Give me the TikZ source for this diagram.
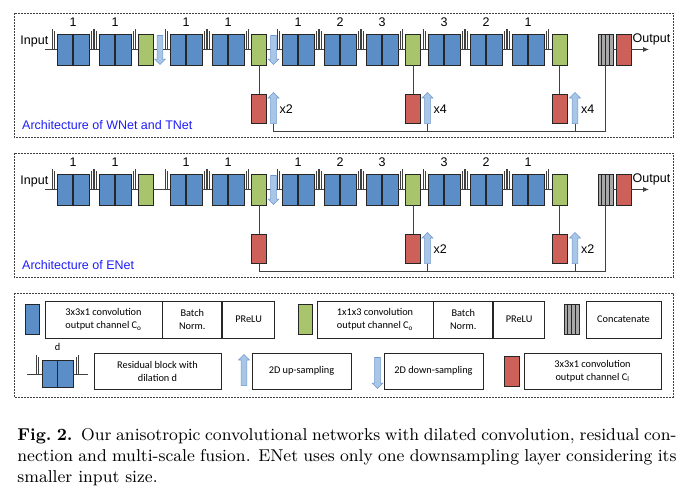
\documentclass[tikz,border=0pt]{standalone}
\usepackage{fontspec}
\usetikzlibrary{positioning, shapes.arrows, arrows.meta}
\newfontfamily\archfont{Liberation Sans}
\newfontfamily\keyfont{Carlito}

\definecolor{convblue}{RGB}{91,142,199}
\definecolor{convgreen}{RGB}{168,196,108}
\definecolor{convred}{RGB}{205,97,89}
\definecolor{catgray}{RGB}{168,168,168}
\definecolor{sampfill}{RGB}{168,198,232}
\definecolor{sampdraw}{RGB}{112,152,204}
\definecolor{titleblue}{RGB}{30,30,250}

\tikzset{
  blk/.style={draw=black!85, line width=0.8pt, inner sep=0pt, outer sep=0pt},
  resblk/.style={blk, fill=convblue, minimum width=32pt, minimum height=31pt,
    path picture={\draw[line width=1.3pt] (path picture bounding box.north) -- (path picture bounding box.south);}},
  greenblk/.style={blk, fill=convgreen, minimum width=15pt, minimum height=31pt},
  redblk/.style={blk, fill=convred, minimum width=15pt, minimum height=29pt},
  catblk/.style={blk, fill=catgray, minimum width=15pt, minimum height=31pt,
    path picture={\foreach \k in {1,2,3}
      \draw[line width=0.8pt] ([xshift=\k*3.75pt]path picture bounding box.south west) -- ([xshift=\k*3.75pt]path picture bounding box.north west);}},
  skipline/.style={draw=black!75, line width=0.7pt, double=white, double distance=1.4pt},
  wire/.style={draw=black!75, line width=0.8pt},
  samparrow/.style={single arrow, draw=sampdraw, fill=sampfill, line width=0.6pt,
    minimum height=31pt, minimum width=10.5pt, inner sep=2.6pt, single arrow head extend=2.5pt},
  uparrow/.style={samparrow, rotate=90},
  downarrow/.style={samparrow, rotate=-90, minimum height=29pt},
  lbl/.style={inner sep=0pt, font=\archfont\fontsize{12.5}{14}\selectfont},
  archtitle/.style={lbl, anchor=base west, text=titleblue},
  panelframe/.style={draw=black!75, line width=0.7pt, dash pattern=on 2pt off 1pt},
  keybox/.style={draw=black!85, line width=0.8pt, align=center, inner sep=1pt,
    font=\keyfont\fontsize{10.3}{13}\selectfont},
  keylbl/.style={inner sep=0pt, font=\keyfont\fontsize{10.3}{13}\selectfont}
}

\begin{document}
\begin{tikzpicture}[x=1pt, y=-1pt]
\useasboundingbox (0,0) rectangle (684,498);

% both networks share the same backbone
\foreach \p/\yo/\ttl in {w/0/WNet and TNet, e/140/ENet}{
\begin{scope}[shift={(0,\yo)}]
  \draw[panelframe] (14,13) rectangle (673,137);
  \node[archtitle] (\p-title) at (22,129.5) {Architecture of \ttl};
  \coordinate (\p-in) at (45,49.5);
  \node[lbl, anchor=base east] (\p-input) at (48.5,44.3) {Input};
  \foreach \b/\xc/\dd in {1/73/1, 2/115/1, 3/186/1, 4/228/1, 5/298/1, 6/340/2, 7/382/3, 8/444/3, 9/486/2, 10/528/1}{
    \node[resblk] (\p-b\b) at (\xc,49.5) {};
    \draw[skipline] ([shift={(-3.5,0)}]\p-b\b.west) |- ([shift={(0,-4)}]\p-b\b.north) -| ([shift={(3.5,0)}]\p-b\b.east);
    \node[lbl, anchor=base] (\p-d\b) at (\xc,26.5) {\dd};
  }
  \foreach \g/\xc in {1/145.5, 2/259, 3/413, 4/559.5}
    \node[greenblk] (\p-g\g) at (\xc,49.5) {};
  \foreach \r/\xc in {1/259, 2/413, 3/559.5}
    \node[redblk] (\p-r\r) at (\xc,108.5) {};
  \node[catblk] (\p-cat) at (605.5,49.5) {};
  \node[redblk, minimum height=31pt] (\p-out) at (623.5,49.5) {};
  \coordinate (\p-end) at (649,49.5);
  \coordinate (\p-bus) at (605.5,131);
  \node[lbl, anchor=base west] (\p-output) at (632.5,42) {Output};

  \draw[wire] (\p-in) -- (\p-b1) -- (\p-b2) -- (\p-g1) -- (\p-b3) -- (\p-b4) -- (\p-g2) -- (\p-b5) -- (\p-b6)
    -- (\p-b7) -- (\p-g3) -- (\p-b8) -- (\p-b9) -- (\p-b10) -- (\p-g4);
  \draw[wire] (\p-g2) -- (\p-r1);
  \draw[wire] (\p-g3) -- (\p-r2);
  \draw[wire] (\p-g4) -- (\p-r3);
  \draw[wire] (\p-bus) -- (\p-cat);
  \draw[wire] (\p-cat) -- (\p-out);
  \draw[wire, -{Latex[length=6pt, width=5pt]}] (\p-out) -- (\p-end);
  \node[downarrow] (\p-dn2) at (273.5,48.5) {};
  \node[uparrow] (\p-up2) at (427.5,109.5) {};
  \node[uparrow] (\p-up3) at (575,109.5) {};
  \draw[wire] (\p-up2.tail) -- (\p-up2.tail |- \p-bus);
  \draw[wire] (\p-up3.tail) -- (\p-up3.tail |- \p-bus);
\end{scope}
}

% WNet and TNet
\node[downarrow] (w-dn1) at (160,48.5) {};
\node[uparrow] (w-up1) at (273.5,109.5) {};
\draw[wire] (w-up1.tail) |- (w-bus);
\node[lbl, anchor=base west] (w-x1) at (279.5,113.5) {x2};
\node[lbl, anchor=base west] (w-x2) at (433.5,113.5) {x4};
\node[lbl, anchor=base west] (w-x3) at (581,113.5) {x4};

% ENet
\draw[wire] (e-r1) |- (e-bus);
\node[lbl, anchor=base west] (e-x2) at (433.5,253.5) {x2};
\node[lbl, anchor=base west] (e-x3) at (581,253.5) {x2};

% legend
\draw[panelframe] (14,293) rectangle (673,397);
\node[blk, fill=convblue, minimum width=14pt, minimum height=30pt] (k-blue) at (32,319) {};
\node[keybox, minimum width=117pt, minimum height=37pt] (k-conv) at (103.5,319.5) {3x3x1 convolution\\output channel C\textsubscript{o}};
\node[keybox, minimum width=59pt, minimum height=37pt, right=0pt of k-conv] (k-bn) {Batch\\Norm.};
\node[keybox, minimum width=52pt, minimum height=37pt, right=0pt of k-bn] (k-act) {PReLU};
\node[blk, fill=convgreen, minimum width=14pt, minimum height=30pt] (k-green) at (305,319) {};
\node[keybox, minimum width=116pt, minimum height=37pt] (k-conv2) at (375,319.5) {1x1x3 convolution\\output channel C\textsubscript{o}};
\node[keybox, minimum width=59pt, minimum height=37pt, right=0pt of k-conv2] (k-bn2) {Batch\\Norm.};
\node[keybox, minimum width=51pt, minimum height=37pt, right=0pt of k-bn2] (k-act2) {PReLU};
\node[catblk, minimum height=30pt] (k-cat) at (571.5,319) {};
\node[keybox, minimum width=75pt, minimum height=37pt] (k-cattxt) at (623.5,319.5) {Concatenate};

\coordinate (k-rl) at (27,374);
\coordinate (k-rr) at (88,374);
\node[resblk, minimum width=31pt, minimum height=27pt] (k-res) at (57.5,374) {};
\draw[skipline] ([shift={(-4.5,0)}]k-res.west) |- ([shift={(0,-4.5)}]k-res.north) -| ([shift={(4.5,0)}]k-res.east);
\draw[wire] (k-rl) -- (k-res) -- (k-rr);
\node[keylbl, anchor=base] (k-d) at (57.5,350) {d};
\node[keybox, minimum width=127pt, minimum height=36pt] (k-restxt) at (157.5,371) {Residual block with\\dilation d};
\node[uparrow] (k-up) at (244,371.5) {};
\node[keybox, minimum width=99pt, minimum height=36pt] (k-uptxt) at (301.5,371) {2D up-sampling};
\node[downarrow, minimum height=31pt] (k-dn) at (377.5,371.5) {};
\node[keybox, minimum width=99pt, minimum height=36pt] (k-dntxt) at (433.5,371) {2D down-sampling};
\node[blk, fill=convred, minimum width=15pt, minimum height=30pt] (k-red) at (511.5,371) {};
\node[keybox, minimum width=137pt, minimum height=36pt] (k-redtxt) at (592.5,371) {3x3x1 convolution\\output channel C\textsubscript{l}};

% caption
\node[anchor=north west, scale=1.906, text width=345.8pt, align=justify, inner sep=0pt,
  font=\fontsize{9}{11}\selectfont] (caption) at (17,428)
  {\textbf{Fig.~2.}\hspace{0.5em}Our anisotropic convolutional networks with dilated convolution, residual con-\linebreak nection and multi-scale fusion. ENet uses only one downsampling layer considering its\linebreak smaller input size.};
\end{tikzpicture}
\end{document}
